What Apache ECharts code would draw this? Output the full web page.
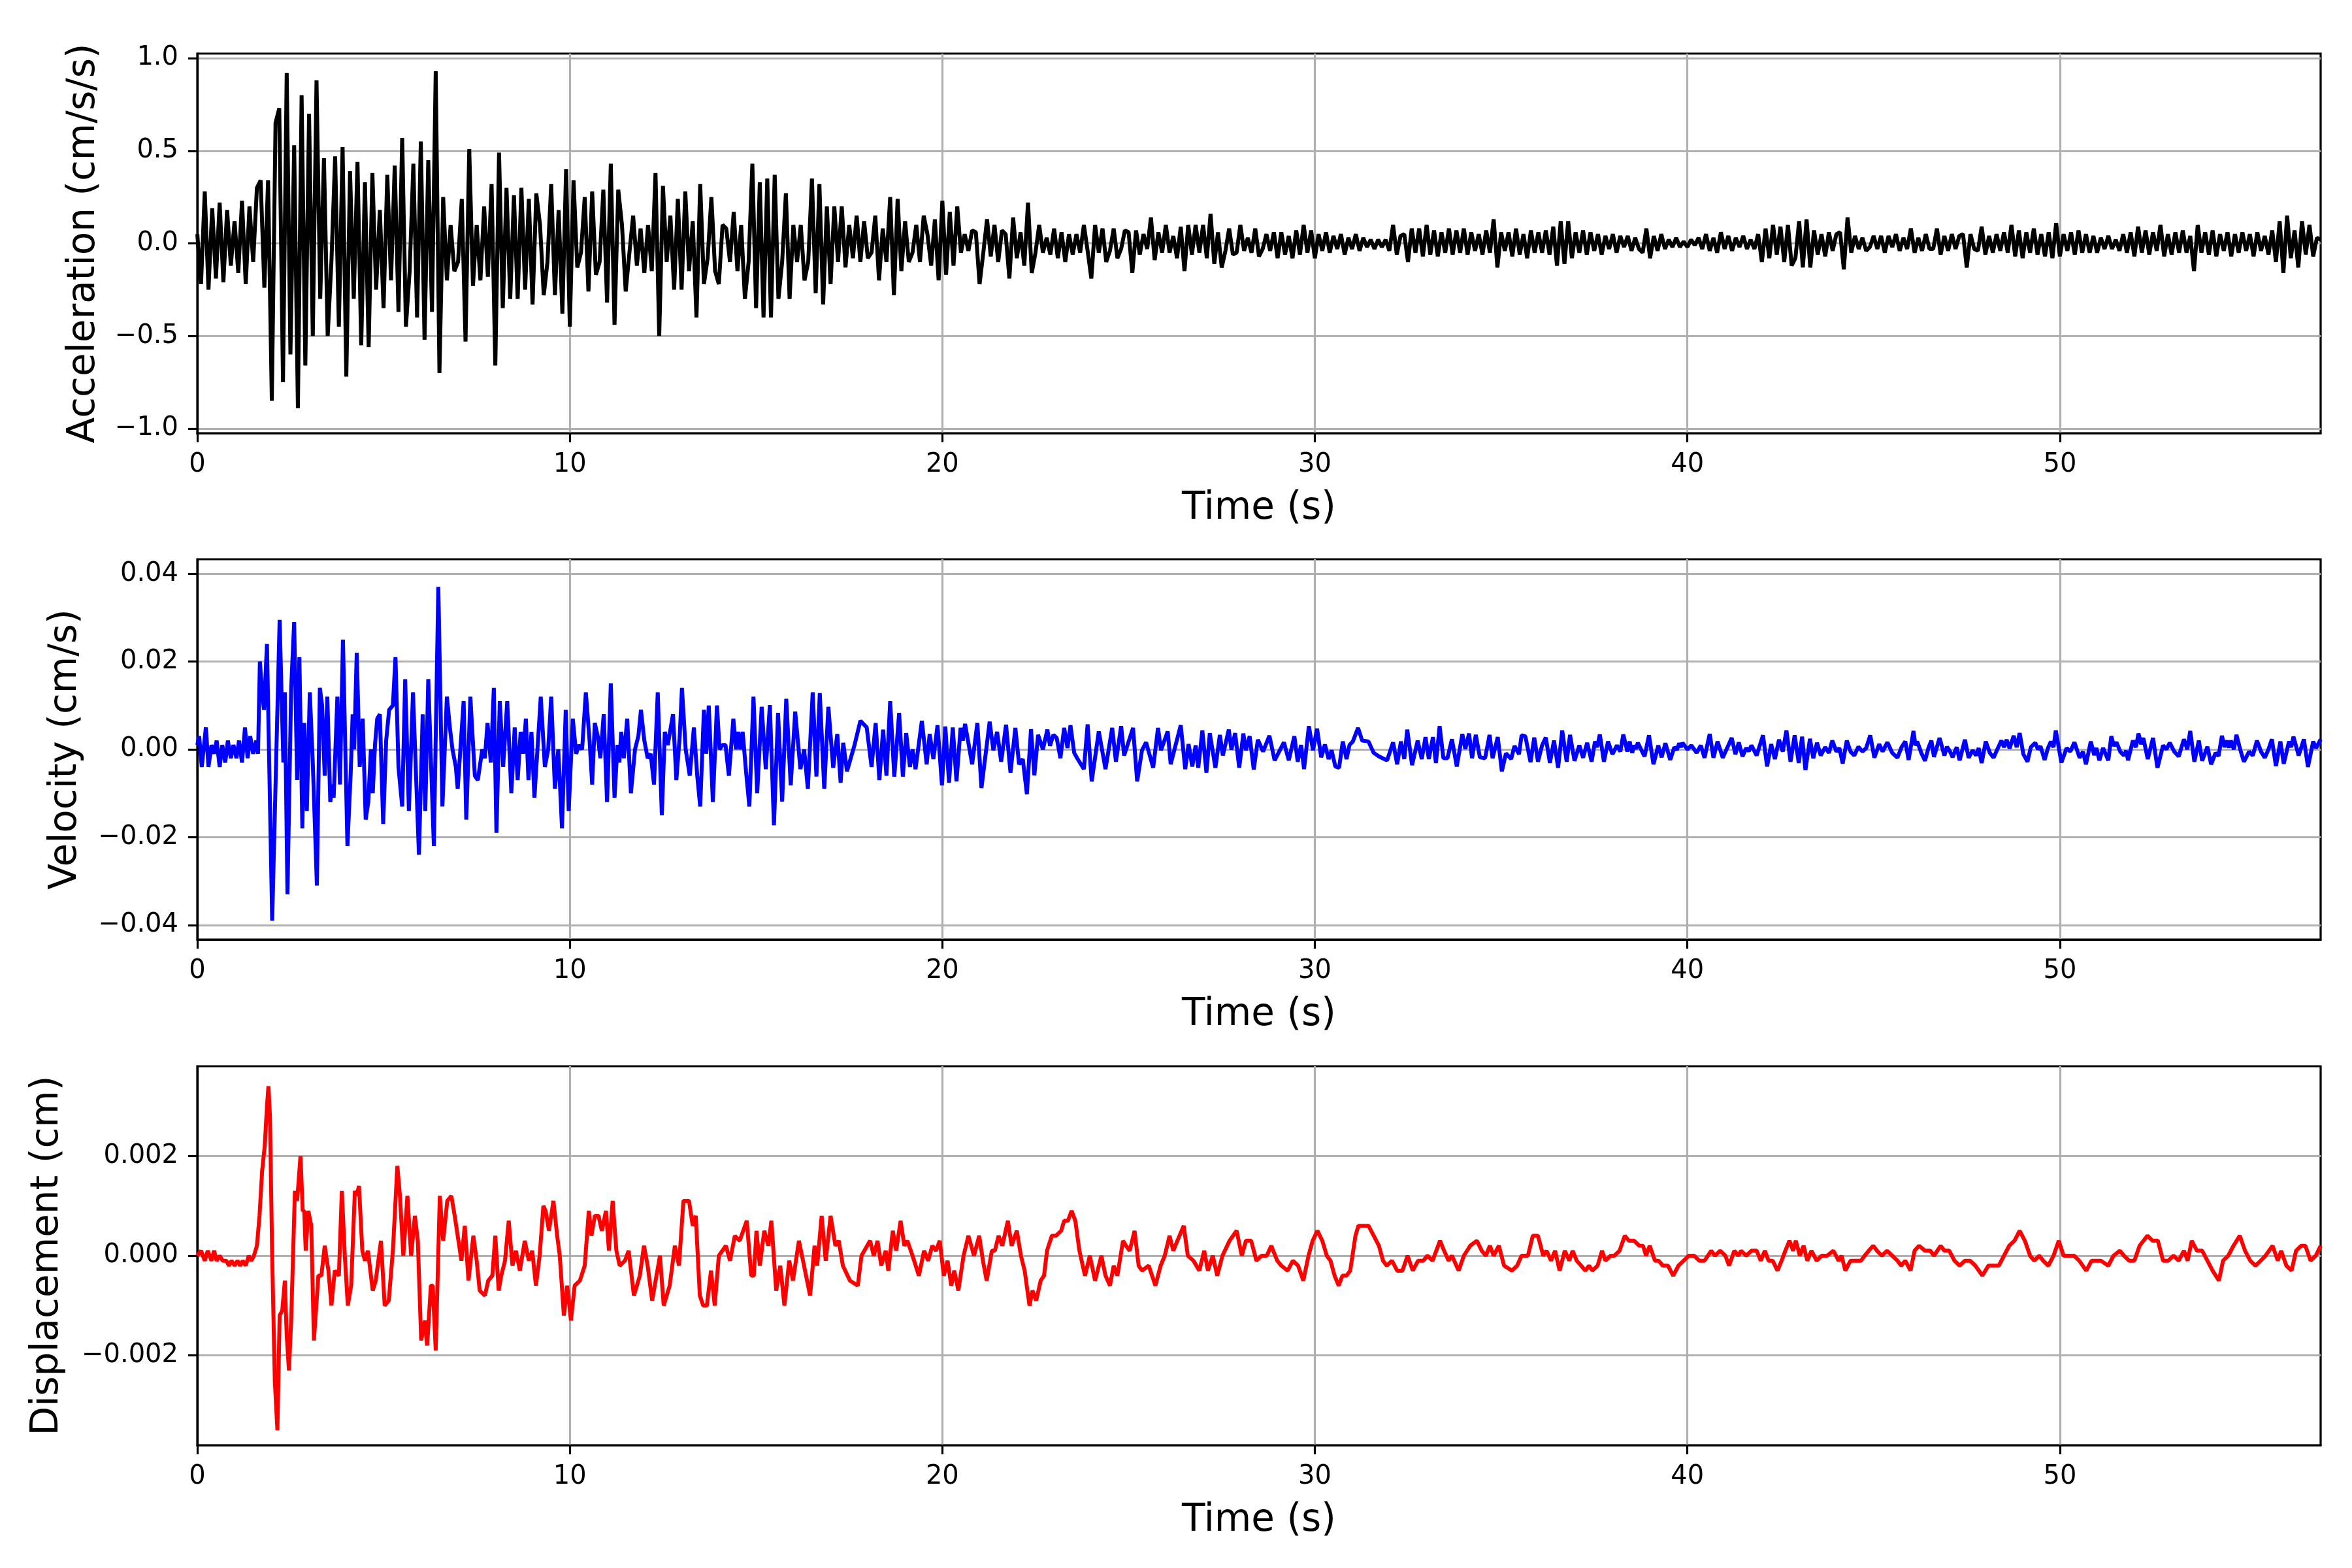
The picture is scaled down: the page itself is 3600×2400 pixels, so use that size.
<!DOCTYPE html>
<html>
<head>
<meta charset="utf-8" />
<title>Acceleration, velocity and displacement records</title>
<script src="https://cdn.jsdelivr.net/npm/echarts@6.0.0/dist/echarts.min.js"></script>
<style>
  html, body { margin: 0; padding: 0; background: #fff; }
  #chart { width: 3600px; height: 2400px; }
</style>
</head>
<body>
<div id="chart"></div>
<script type="text/javascript">
// acceleration record, one value every accStep seconds (cm/s/s)
var accStep = 0.1;
var accValues = [
  0.05,-0.22,0.28,-0.25,0.19,-0.19,0.22,-0.21,0.18,-0.12,
  0.12,-0.16,0.23,-0.22,0.2,-0.1,0.3,0.34,-0.24,0.34,
  -0.85,0.65,0.73,-0.75,0.92,-0.6,0.53,-0.89,0.8,-0.66,
  0.7,-0.5,0.88,-0.3,0.46,-0.5,-0.1,0.47,-0.45,0.52,
  -0.72,0.39,-0.3,0.44,-0.55,0.33,-0.56,0.38,-0.25,0.18,
  -0.35,0.37,-0.2,0.42,-0.37,0.57,-0.45,-0.15,0.43,-0.4,
  0.55,-0.52,0.45,-0.37,0.93,-0.7,0.25,-0.2,0.1,-0.15,
  -0.1,0.24,-0.53,0.51,-0.23,0.1,-0.2,0.2,-0.18,0.32,
  -0.66,0.49,-0.35,0.3,-0.3,0.26,-0.3,0.3,-0.25,0.24,
  -0.33,0.27,0.1,-0.28,-0.1,0.32,-0.28,0.18,-0.38,0.4,
  -0.45,0.34,-0.13,-0.05,0.25,-0.26,0.28,-0.17,-0.1,0.29,
  -0.32,0.43,-0.44,0.29,0.1,-0.26,-0.05,0.15,-0.12,0.08,
  -0.16,0.1,-0.15,0.38,-0.5,0.31,-0.1,0.15,-0.25,0.24,
  -0.25,0.28,-0.15,0.12,-0.4,0.32,-0.22,-0.08,0.25,-0.15,
  -0.22,0.1,0.08,-0.1,0.17,-0.15,0.1,-0.3,-0.1,0.43,
  -0.35,0.33,-0.4,0.35,-0.4,0.37,-0.3,-0.1,0.27,-0.3,
  0.1,-0.1,0.1,-0.2,-0.1,0.35,-0.27,0.32,-0.33,0.2,
  -0.22,0.2,-0.1,0.2,-0.13,0.1,-0.08,0.15,-0.1,0.12,
  -0.08,-0.05,0.15,-0.2,0.08,-0.1,0.25,-0.28,0.24,-0.15,
  0.12,-0.1,-0.05,0.1,-0.1,0.15,0.05,-0.12,0.13,-0.2,
  0.23,-0.17,0.17,-0.12,0.2,-0.05,0.05,-0.04,0.07,0.06,
  -0.22,-0.05,0.13,-0.07,0.1,-0.1,0.07,0.05,-0.19,0.14,
  -0.08,0.06,-0.12,0.22,-0.16,-0.05,0.1,-0.05,0.03,-0.06,
  0.08,-0.08,0.06,-0.1,0.05,-0.06,0.05,-0.05,0.1,-0.04,
  -0.19,0.1,-0.05,0.08,-0.1,-0.04,0.08,-0.08,-0.03,0.07,
  0.06,-0.16,0.07,-0.06,0.05,-0.03,0.14,-0.09,0.06,-0.05,
  0.1,-0.05,0.04,-0.08,0.09,-0.15,0.1,-0.06,0.1,-0.05,
  0.1,-0.08,0.16,-0.11,0.06,-0.13,-0.04,0.08,-0.06,-0.05,
  0.1,-0.04,0.03,-0.05,0.08,-0.07,-0.03,0.05,-0.04,0.06,
  -0.08,0.06,-0.06,0.04,-0.08,0.07,-0.06,0.1,-0.05,0.07,
  -0.08,0.05,-0.04,0.06,-0.05,0.04,-0.03,0.05,-0.06,0.03,
  -0.03,0.05,-0.04,0.03,-0.02,0.02,-0.03,0.02,-0.02,0.02,
  -0.04,0.1,-0.06,0.04,0.05,-0.1,0.08,-0.05,0.08,-0.07,
  0.1,-0.06,0.07,-0.07,0.06,-0.05,0.08,-0.06,0.07,-0.05,
  0.08,-0.06,0.06,-0.04,0.05,-0.06,0.07,-0.05,0.13,-0.13,
  0.06,-0.04,0.06,-0.07,0.08,-0.06,0.05,-0.08,0.07,-0.05,
  0.06,-0.05,0.07,-0.06,0.09,-0.12,0.12,-0.11,0.12,-0.08,
  0.06,-0.05,0.07,-0.06,0.06,-0.04,0.05,-0.06,0.04,-0.03,
  0.05,-0.05,0.04,-0.02,0.04,-0.04,0.03,-0.03,-0.05,0.08,
  -0.08,0.04,-0.04,0.05,-0.03,0.02,-0.02,0.03,-0.02,0.01,
  -0.02,0.02,-0.01,0.03,-0.03,0.05,-0.04,0.03,-0.05,0.06,
  -0.03,0.04,-0.04,0.03,-0.02,0.04,-0.03,0.02,-0.03,0.05,
  -0.1,0.08,-0.08,0.1,-0.06,0.09,-0.1,0.1,-0.12,-0.08,
  0.12,-0.13,0.13,-0.13,0.07,-0.06,0.05,-0.07,0.06,-0.04,
  0.05,0.06,-0.14,0.14,-0.05,0.04,-0.03,0.03,-0.04,-0.02,
  0.04,-0.03,0.04,-0.05,0.04,-0.02,0.05,-0.04,0.03,-0.03,
  0.08,-0.05,0.03,-0.04,0.05,-0.03,-0.03,0.08,-0.06,0.04,
  -0.04,0.05,-0.03,0.04,0.05,-0.13,0.05,-0.03,-0.04,0.09,
  -0.06,0.04,-0.05,0.05,-0.04,0.06,-0.05,0.1,-0.07,0.07,
  -0.08,0.06,-0.05,0.08,-0.06,0.05,-0.07,0.06,-0.08,0.11,
  -0.07,0.05,-0.04,0.06,-0.06,0.07,-0.05,0.05,-0.05,0.04,
  -0.05,0.03,-0.03,0.04,-0.03,0.02,-0.04,0.05,-0.05,0.06,
  -0.07,0.09,-0.05,0.07,-0.06,0.06,-0.04,0.1,-0.07,0.05,
  -0.06,0.06,-0.05,0.07,-0.05,0.04,-0.15,0.1,-0.05,0.06,
  -0.06,0.07,-0.07,0.05,-0.04,0.06,-0.07,0.05,-0.05,0.06,
  -0.04,0.05,-0.07,0.06,-0.04,0.04,-0.06,0.07,-0.1,0.12,
  -0.16,0.15,-0.08,0.07,-0.13,0.12,-0.06,0.1,-0.07,0.03,
  0.02
];

// velocity record, [time (s), cm/s] at its turning points
var velPoints = [
  [0,0.001],[0.05,0.003],[0.12,-0.004],[0.23,0.005],[0.3,-0.004],[0.38,0.001],[0.45,-0.001],[0.52,0.002],
  [0.6,-0.004],[0.67,0.001],[0.75,-0.003],[0.82,0.002],[0.9,-0.002],[0.97,0.001],[1.05,-0.002],[1.12,0.002],
  [1.2,-0.003],[1.28,0.005],[1.35,-0.002],[1.42,0.003],[1.5,-0.001],[1.58,0.002],[1.63,-0.001],
  [1.68,0.02],[1.74,0.013],[1.79,0.009],[1.87,0.024],[2.01,-0.039],[2.04,-0.039],[2.21,0.0295],[2.31,-0.003],
  [2.35,0.013],[2.42,-0.033],[2.52,0.014],[2.6,0.029],[2.68,-0.007],[2.74,0.021],[2.82,-0.018],[2.87,0.006],
  [2.94,-0.014],[3.02,0.013],[3.1,-0.003],[3.21,-0.031],[3.29,0.014],[3.35,0.01],[3.42,-0.006],[3.49,0.012],
  [3.57,-0.012],[3.62,-0.008],[3.66,-0.011],[3.76,0.012],[3.83,-0.008],[3.91,0.025],[4.03,-0.022],[4.12,-0.005],
  [4.17,0.008],[4.21,0.0],[4.28,0.022],[4.36,-0.004],[4.44,0.007],[4.52,-0.016],[4.59,-0.012],[4.66,0.0],
  [4.71,-0.01],[4.77,0.001],[4.83,0.007],[4.9,0.008],[4.99,-0.017],[5.07,0.002],[5.15,0.009],[5.25,0.01],
  [5.32,0.021],[5.4,-0.004],[5.5,-0.013],[5.58,0.016],[5.68,-0.014],[5.79,0.013],[5.95,-0.024],[6.05,0.008],
  [6.12,-0.014],[6.2,0.016],[6.27,-0.002],[6.35,-0.022],[6.47,0.037],[6.58,-0.013],[6.7,0.012],[6.78,0.005],
  [6.85,0.0],[6.94,-0.004],[6.99,-0.009],[7.15,0.011],[7.22,-0.016],[7.33,0.012],[7.45,-0.006],[7.53,-0.007],
  [7.65,0.0],[7.72,-0.002],[7.79,0.006],[7.88,-0.003],[7.96,0.014],[8.03,-0.019],[8.12,0.011],[8.21,-0.004],
  [8.32,0.011],[8.43,-0.01],[8.52,0.005],[8.6,-0.007],[8.68,0.004],[8.75,-0.001],[8.82,0.007],[8.89,-0.007],
  [8.97,0.004],[9.05,-0.011],[9.22,0.012],[9.33,-0.004],[9.42,0.0],[9.5,0.012],[9.6,-0.009],[9.69,0.0],
  [9.79,-0.018],[9.89,0.009],[9.97,-0.014],[10.08,0.007],[10.17,-0.001],[10.25,0.001],[10.33,0.0],[10.43,0.013],
  [10.53,0.002],[10.6,-0.008],[10.67,0.006],[10.75,0.003],[10.82,-0.002],[10.91,0.008],[11.0,-0.012],[11.1,0.015],
  [11.2,-0.011],[11.28,0.001],[11.33,-0.003],[11.38,0.004],[11.45,-0.002],[11.54,0.007],[11.64,-0.01],[11.75,0.0],
  [11.84,0.003],[11.91,0.009],[12.0,0.002],[12.09,-0.002],[12.17,-0.001],[12.26,-0.008],[12.36,0.013],[12.47,-0.015],
  [12.55,0.004],[12.63,0.001],[12.77,0.008],[12.86,-0.007],[12.95,0.003],[13.01,0.014],[13.11,0.0],[13.22,-0.006],
  [13.33,0.005],[13.42,-0.006],[13.5,-0.013],[13.6,0.009],[13.66,-0.001],[13.73,0.01],[13.84,-0.012],[13.95,0.01],
  [14.02,0.0],[14.1,0.001],[14.18,0.001],[14.27,-0.006],[14.39,0.007],[14.46,0.0],[14.52,0.004],[14.58,0.0],
  [14.64,0.004],[14.73,-0.005],[14.82,-0.013],[14.93,0.012],
  [15.03,-0.01],[15.15,0.0097],[15.26,-0.0045],[15.37,0.0101],[15.48,-0.0173],[15.59,0.0083],[15.7,-0.0119],[15.81,0.0115],
  [15.93,-0.0082],[16.05,0.0086],[16.19,-0.0045],[16.29,0.0],[16.39,-0.009],[16.52,0.013],[16.62,-0.0062],[16.71,0.0128],
  [16.83,-0.009],[16.94,0.0097],[17.07,-0.0042],[17.18,0.0035],[17.27,-0.0076],[17.34,0.0015],[17.44,-0.005],[17.64,0.0009],
  [17.8,0.0065],[17.97,0.005],[18.1,-0.004],[18.21,0.006],[18.31,-0.007],[18.41,0.0045],[18.5,-0.006],[18.6,0.011],
  [18.71,-0.0062],[18.84,0.0083],[18.94,-0.0062],[19.03,0.0037],[19.13,-0.004],[19.2,0.0],[19.28,-0.0045],[19.45,0.0065],
  [19.58,-0.0034],[19.66,0.0035],[19.76,-0.0022],[19.87,0.0055],[19.99,-0.0082],[20.08,0.0052],[20.18,-0.0076],[20.28,0.005],
  [20.38,-0.0073],[20.49,0.0049],[20.55,0.002],[20.61,0.0058],[20.8,-0.0034],[20.94,0.006],[21.05,-0.0088],[21.27,0.0063],
  [21.37,-0.0002],[21.47,0.004],[21.58,-0.0028],[21.71,0.0056],[21.83,-0.0053],[21.96,0.0049],[22.06,-0.0034],[22.16,-0.0022],
  [22.27,-0.0102],[22.38,0.0046],[22.47,-0.0059],[22.57,0.0033],[22.7,0.0],[22.82,0.0045],[22.89,0.0008],[22.98,0.0033],
  [23.07,0.0026],[23.17,-0.002],[23.27,0.0049],[23.36,0.0003],[23.44,0.0055],[23.54,-0.0008],[23.62,-0.002],[23.8,-0.0045],
  [23.9,0.0057],[24.01,-0.0073],[24.2,0.0041],[24.38,-0.0045],[24.56,0.0049],[24.66,-0.0028],[24.8,0.0053],[24.88,-0.0014],
  [25.12,0.0049],[25.23,-0.0073],[25.36,-0.0002],[25.47,0.0016],[25.66,-0.0042],[25.79,0.0049],[25.87,-0.0002],[26.05,0.0041],
  [26.13,-0.0034],[26.4,0.0055],[26.52,-0.0045],[26.61,0.0012],[26.71,-0.0039],[26.8,0.0009],[26.87,-0.0042],[26.98,0.0043],
  [27.09,-0.0053],[27.18,0.0037],[27.33,-0.0042],[27.45,0.0033],[27.53,-0.0014],[27.69,0.0045],[27.76,-0.0001],[27.86,0.0037],
  [27.97,-0.0042],[28.08,0.0036],[28.15,-0.0002],[28.25,0.003],[28.36,-0.0046],[28.47,0.0022],[28.61,-0.0005],[28.78,0.0031],
  [28.92,-0.0025],[29.17,0.0016],[29.3,-0.0025],[29.45,0.003],[29.54,-0.0028],[29.63,0.001],[29.71,-0.0045],[29.84,0.0053],
  [29.95,-0.0002],[30.06,0.0047],[30.17,-0.0018],[30.27,0.0011],[30.37,-0.0022],[30.45,-0.0002],[30.55,-0.0039],[30.65,-0.0042],
  [30.75,0.0018],[30.85,-0.0022],[30.93,0.001],[31.02,0.0018],[31.16,0.0049],[31.27,0.002],[31.44,0.0018],[31.58,-0.0008],
  [31.72,-0.0016],[31.86,-0.0022],[31.94,-0.0025],[32.1,0.0016],[32.21,-0.0034],[32.31,0.0018],[32.4,-0.0022],[32.48,0.0045],
  [32.61,-0.0036],[32.76,0.002],[32.87,-0.0022],[32.97,0.0028],[33.06,-0.0022],[33.17,0.0028],[33.25,-0.0031],[33.35,0.0053],
  [33.45,-0.002],[33.56,-0.002],[33.68,0.0023],[33.81,-0.0039],[33.96,0.0035],[34.04,0.0001],[34.14,0.0036],[34.22,-0.002],
  [34.32,0.0033],[34.43,-0.0018],[34.57,-0.002],[34.69,0.0033],[34.77,-0.002],[34.91,0.0028],[35.02,-0.005],[35.13,-0.0009],
  [35.27,-0.0022],[35.36,0.0008],[35.48,-0.0011],[35.55,0.0032],[35.65,0.003],[35.79,-0.0029],[35.89,0.0027],
  [35.99,-0.0028],[36.1,0.0009],[36.2,0.0027],[36.31,-0.0031],[36.42,0.002],[36.53,-0.0042],[36.64,0.0043],[36.76,-0.0028],
  [36.85,0.0033],[36.97,-0.0026],[37.1,0.0009],[37.2,-0.0019],[37.31,0.0015],[37.43,-0.0028],[37.52,0.0018],[37.58,0.0005],
  [37.65,0.0034],[37.76,-0.0028],[37.87,0.0018],[37.99,-0.0011],[38.11,0.0009],[38.2,-0.0005],[38.28,0.0034],[38.39,-0.0005],
  [38.45,0.0018],[38.52,-0.0008],[38.57,0.0009],[38.62,0.0001],[38.67,0.0015],[38.85,-0.0016],[38.97,0.0032],[39.09,-0.0034],
  [39.22,0.0009],[39.31,-0.0018],[39.41,0.0014],[39.54,-0.0024],[39.65,0.0005],[39.72,-0.0001],[39.78,0.0014],[39.83,0.0005],
  [39.87,0.0015],[40.0,0.0],[40.11,0.0009],[40.25,-0.0008],[40.36,0.0009],[40.46,-0.0019],[40.6,0.0035],[40.7,-0.0019],
  [40.81,0.0018],[40.95,-0.0019],[41.19,0.0026],[41.29,-0.0011],[41.38,0.0016],[41.48,-0.0016],[41.58,0.0003],[41.65,-0.0004],
  [41.72,0.0009],[41.86,-0.0014],[42.03,0.0032],[42.14,-0.0039],[42.25,0.0012],[42.35,-0.0022],[42.46,0.0022],[42.56,-0.0005],
  [42.66,0.0043],[42.77,-0.0028],[42.88,0.0032],[42.99,-0.0031],[43.08,0.0029],[43.17,-0.0047],[43.29,0.0024],[43.38,-0.002],
  [43.48,0.0015],[43.58,-0.0014],[43.7,0.0005],[43.8,-0.0008],[43.89,0.002],[44.0,-0.0005],[44.08,0.0003],[44.17,-0.0032],
  [44.28,0.002],[44.38,-0.0005],[44.48,-0.0014],[44.59,0.0006],[44.7,-0.0005],[44.8,0.0003],[44.91,0.0032],[45.02,-0.0019],
  [45.15,0.0012],[45.24,-0.0005],[45.37,0.0016],[45.5,-0.0008],[45.64,-0.0019],[45.75,0.0005],[45.85,0.0018],[45.94,-0.0024],
  [46.07,0.0042],[46.12,0.0009],[46.17,0.0018],[46.28,-0.0008],[46.38,-0.0026],[46.47,0.0003],[46.55,0.002],[46.62,-0.0017],
  [46.77,0.0026],[46.9,-0.0014],[46.97,0.0006],[47.05,-0.0005],[47.12,-0.0018],[47.23,0.0005],[47.31,-0.0025],[47.45,0.0022],
  [47.55,-0.0019],[47.66,-0.0002],[47.75,-0.0014],[47.82,0.0003],[47.9,-0.0031],[48.01,0.0018],[48.12,-0.0008],[48.22,-0.0019],
  [48.32,0.0],[48.43,0.002],[48.5,0.0005],[48.57,0.0022],[48.65,0.0002],[48.76,0.0031],[48.84,0.0005],[48.92,0.0037],
  [49.02,-0.0011],[49.13,-0.0028],[49.22,0.0005],[49.34,0.0015],[49.41,0.0],[49.48,0.0007],[49.59,-0.0024],[49.68,0.0003],
  [49.76,0.0018],[49.83,0.0005],[49.89,0.0043],[50.04,-0.003],[50.18,0.0003],[50.28,-0.0005],[50.39,0.0016],[50.53,-0.0019],
  [50.62,-0.0005],[50.7,-0.0034],[50.83,0.0018],[50.92,-0.0013],[50.98,0.0003],[51.06,-0.0025],[51.16,0.0003],[51.3,-0.0025],
  [51.38,0.003],[51.45,0.0008],[51.52,0.0016],[51.62,-0.0005],[51.72,-0.0014],[51.78,-0.0003],[51.83,-0.0025],[51.96,0.002],
  [52.04,0.0005],[52.11,0.0036],[52.18,0.0012],[52.24,0.0026],[52.36,-0.0022],[52.5,0.0026],[52.62,-0.0042],[52.77,0.0009],
  [52.86,0.0],[52.95,0.0015],[53.07,-0.0005],[53.19,-0.0016],[53.33,0.0023],[53.42,0.0],[53.5,0.0042],[53.61,-0.0028],
  [53.73,0.002],[53.82,-0.0026],[53.96,0.0006],[54.06,-0.0034],[54.18,-0.0008],[54.26,-0.0015],[54.35,0.0031],[54.42,0.0005],
  [54.48,0.002],[54.54,0.0004],[54.59,0.002],[54.67,0.0],[54.74,0.0033],[54.84,0.0],[54.94,-0.0028],[55.08,-0.0005],
  [55.18,-0.0014],[55.29,0.002],[55.4,-0.0005],[55.5,-0.0019],[55.6,0.0],[55.69,0.0023],[55.8,-0.0038],[55.92,0.0018],
  [56.01,-0.0033],[56.15,0.0018],[56.21,0.0005],[56.27,0.0029],[56.41,-0.0014],[56.55,0.0023],[56.66,-0.004],[56.8,0.0018],
  [56.88,0.0003],[57.0,0.0023]
];

// displacement record, [time (s), cm] at its turning points
var dispPoints = [
  [0,0.0],[0.1,0.0001],[0.2,-0.0001],[0.28,0.0001],[0.38,-0.0001],[0.45,0.0001],[0.52,-0.0001],[0.6,0.0],
  [0.68,-0.0001],[0.78,-0.0001],[0.85,-0.0002],[0.92,-0.0001],[1.0,-0.0002],[1.08,-0.0001],[1.15,-0.0002],[1.22,-0.0001],
  [1.3,-0.0002],[1.38,0.0],[1.45,-0.0001],[1.52,0.0],[1.6,0.0002],[1.67,0.0008],[1.74,0.0017],[1.81,0.0022],
  [1.87,0.003],[1.91,0.0034],[1.95,0.0028],[2.01,0.0],[2.08,-0.0025],[2.15,-0.0035],[2.21,-0.0012],[2.28,-0.0011],
  [2.35,-0.0005],[2.4,-0.0016],[2.46,-0.0023],[2.52,-0.0013],[2.62,0.0013],[2.68,0.0011],[2.77,0.002],[2.83,0.0009],
  [2.87,0.0009],[2.91,0.0001],[2.98,0.0009],[3.06,0.0006],[3.13,-0.0017],[3.25,-0.0004],[3.33,-0.0004],[3.42,0.0002],
  [3.52,-0.0003],[3.6,-0.001],[3.69,-0.0003],[3.8,-0.0004],[3.88,0.0013],[3.96,0.0],[4.04,-0.001],[4.13,-0.0006],
  [4.23,0.0013],[4.28,0.0012],[4.34,0.0014],[4.43,0.0001],[4.5,-0.0001],[4.58,0.0001],[4.71,-0.0007],[4.79,-0.0005],
  [4.93,0.0003],[5.03,-0.001],[5.14,-0.0009],[5.25,0.0001],[5.37,0.0018],[5.44,0.0012],[5.53,0.0],[5.64,0.0012],
  [5.74,0.0],[5.84,0.0008],[5.92,0.0003],[6.01,-0.0017],[6.11,-0.0013],[6.17,-0.0018],[6.27,-0.0006],[6.32,-0.0006],
  [6.4,-0.0019],[6.51,0.0012],[6.6,0.0003],[6.71,0.0011],[6.82,0.0012],[6.91,0.0008],[7.01,0.0003],[7.09,-0.0001],
  [7.18,0.0006],[7.28,-0.0005],[7.41,0.0004],[7.5,-0.0001],[7.58,-0.0007],[7.72,-0.0008],[7.81,-0.0005],[7.92,-0.0004],
  [8.0,0.0004],[8.09,-0.0007],[8.16,-0.0004],[8.26,-0.0001],[8.36,0.0007],[8.46,-0.0002],[8.55,0.0001],[8.66,-0.0003],
  [8.79,0.0003],[8.9,-0.0001],[8.99,0.0001],[9.09,-0.0006],[9.19,0.0],[9.29,0.001],[9.35,0.0009],[9.44,0.0005],
  [9.56,0.0011],[9.66,0.0004],[9.73,0.0],[9.84,-0.0012],[9.93,-0.0006],[10.03,-0.0013],[10.13,-0.0006],[10.27,-0.0005],
  [10.4,-0.0002],[10.51,0.0009],[10.58,0.0004],[10.67,0.0008],[10.77,0.0008],[10.86,0.0005],[10.97,0.0009],[11.05,0.0001],
  [11.15,0.0011],[11.25,0.0001],[11.34,-0.0002],[11.48,-0.0001],[11.58,0.0001],[11.72,-0.0008],[11.88,-0.0004],[11.99,0.0002],
  [12.09,-0.0002],[12.21,-0.0009],[12.42,0.0],[12.52,-0.001],[12.68,-0.0006],[12.82,0.0002],[12.93,-0.0002],[13.05,0.0011],
  [13.2,0.0011],[13.3,0.0006],[13.38,0.0008],[13.49,-0.0008],[13.58,-0.001],[13.68,-0.001],[13.79,-0.0003],[13.89,-0.001],
  [14.0,0.0],[14.19,0.0002],[14.3,-0.0001],[14.43,0.0004],[14.56,0.0003],[14.75,0.0007],[14.87,-0.0004],[14.94,-0.0004],
  [15.01,0.0005],[15.1,-0.0002],[15.22,0.0005],[15.33,0.0002],[15.41,0.0007],[15.54,-0.0007],[15.65,-0.0002],[15.76,-0.001],
  [15.89,-0.0001],[15.99,-0.0005],[16.15,0.0003],[16.26,-0.0001],[16.45,-0.0008],[16.57,0.0002],[16.64,-0.0002],[16.76,0.0008],
  [16.87,-0.0001],[17.0,0.0008],[17.13,0.0002],[17.22,0.0003],[17.33,-0.0002],[17.52,-0.0005],[17.73,-0.0006],[17.83,0.0],
  [18.06,0.0003],[18.16,0.0],[18.26,0.0003],[18.36,-0.0002],[18.48,0.0001],[18.55,-0.0003],[18.67,0.0005],[18.76,0.0001],
  [18.88,0.0007],[18.98,0.0002],[19.06,0.0003],[19.2,0.0],[19.37,-0.0004],[19.51,0.0001],[19.62,-0.0001],[19.73,0.0002],
  [19.83,0.0001],[19.93,0.0003],[20.04,-0.0004],[20.14,-0.0001],[20.24,-0.0006],[20.32,-0.0003],[20.43,-0.0007],[20.57,0.0],
  [20.7,0.0004],[20.85,0.0],[20.99,0.0004],[21.09,-0.0001],[21.19,-0.0005],[21.33,0.0001],[21.41,0.0001],[21.51,0.0004],
  [21.61,0.0002],[21.76,0.0007],[21.86,0.0002],[22.0,0.0005],[22.11,0.0],[22.21,-0.0003],[22.34,-0.001],[22.42,-0.0007],
  [22.52,-0.0009],[22.64,-0.0005],[22.73,-0.0004],[22.81,0.0001],[22.94,0.0004],[23.05,0.0004],[23.19,0.0005],[23.27,0.0007],
  [23.37,0.0007],[23.47,0.0009],[23.57,0.0007],[23.68,0.0001],[23.83,-0.0004],[23.96,0.0],[24.1,-0.0005],[24.27,0.0],
  [24.38,-0.0004],[24.5,-0.0006],[24.6,-0.0002],[24.7,-0.0004],[24.85,0.0003],[24.93,0.0002],[25.03,0.0001],[25.16,0.0005],
  [25.27,-0.0002],[25.36,-0.0003],[25.54,-0.0002],[25.72,-0.0006],[25.86,-0.0002],[25.97,0.0],[26.1,0.0004],[26.2,0.0001],
  [26.31,0.0003],[26.48,0.0006],[26.59,0.0],[26.74,-0.0001],[26.9,-0.0003],[27.03,0.0001],[27.13,-0.0003],[27.26,0.0],
  [27.38,-0.0004],[27.52,0.0],[27.71,0.0003],[27.9,0.0005],[28.04,0.0],[28.15,0.0003],[28.29,0.0003],[28.43,-0.0001],
  [28.57,0.0],[28.71,0.0],[28.83,0.0002],[28.99,-0.0001],[29.1,-0.0002],[29.27,-0.0003],[29.41,-0.0001],[29.55,-0.0002],
  [29.69,-0.0005],[29.83,0.0],[29.94,0.0003],[30.07,0.0005],[30.2,0.0003],[30.32,0.0],[30.42,-0.0001],[30.53,-0.0004],
  [30.64,-0.0006],[30.74,-0.0004],[30.85,-0.0004],[30.95,-0.0003],[31.09,0.0004],[31.17,0.0006],[31.3,0.0006],[31.44,0.0006],
  [31.58,0.0004],[31.72,0.0002],[31.83,-0.0001],[31.93,-0.0002],[32.07,-0.0001],[32.21,-0.0003],[32.35,-0.0003],[32.49,0.0],
  [32.63,-0.0003],[32.77,-0.0001],[32.91,-0.0001],[33.02,0.0],[33.16,-0.0001],[33.36,0.0003],[33.47,0.0001],[33.59,-0.0001],
  [33.68,0.0],[33.86,-0.0003],[34.0,0.0],[34.17,0.0002],[34.35,0.0003],[34.48,0.0001],[34.59,0.0],[34.7,0.0002],
  [34.8,0.0],[34.94,0.0002],[35.08,-0.0002],[35.29,-0.0003],[35.43,-0.0002],[35.55,0.0],[35.72,0.0],[35.85,0.0004],
  [35.99,0.0004],[36.13,0.0],[36.22,0.0001],[36.34,-0.0001],[36.45,0.0001],[36.57,-0.0003],[36.71,0.0001],[36.83,-0.0001],
  [36.92,0.0001],[37.03,-0.0001],[37.15,-0.0002],[37.26,-0.0003],[37.36,-0.0002],[37.45,-0.0003],[37.59,-0.0002],[37.71,0.0001],
  [37.8,-0.0001],[37.94,0.0],[38.04,0.0],[38.18,0.0001],[38.32,0.0004],[38.43,0.0003],[38.57,0.0003],[38.71,0.0002],
  [38.81,0.0002],[38.89,0.0],[38.99,0.0002],[39.13,-0.0001],[39.23,-0.0001],[39.34,-0.0002],[39.48,-0.0002],[39.62,-0.0004],
  [39.76,-0.0002],[39.9,-0.0001],[40.04,0.0],[40.18,0.0],[40.32,-0.0001],[40.46,-0.0001],[40.64,0.0001],[40.74,0.0],
  [40.88,0.0001],[41.02,0.0],[41.12,-0.0002],[41.26,0.0001],[41.37,0.0],[41.44,0.0001],[41.58,0.0],[41.72,0.0001],
  [41.86,0.0001],[41.97,-0.0001],[42.08,0.0001],[42.18,-0.0001],[42.29,-0.0001],[42.42,-0.0003],[42.53,-0.0001],[42.63,0.0001],
  [42.74,0.0003],[42.84,0.0001],[42.91,0.0003],[43.02,0.0],[43.12,0.0002],[43.22,-0.0001],[43.33,0.0001],[43.47,-0.0001],
  [43.61,0.0],[43.75,0.0],[43.92,0.0001],[44.06,-0.0001],[44.14,0.0],[44.24,-0.0003],[44.38,-0.0001],[44.52,-0.0001],
  [44.66,-0.0001],[44.76,0.0],[44.87,0.0001],[44.99,0.0002],[45.09,0.0001],[45.22,0.0],[45.36,0.0001],[45.5,0.0],
  [45.64,-0.0001],[45.74,-0.0002],[45.85,-0.0001],[45.99,-0.0003],[46.1,0.0001],[46.22,0.0002],[46.38,0.0001],[46.52,0.0001],
  [46.62,0.0],[46.8,0.0002],[46.9,0.0001],[47.03,0.0001],[47.17,-0.0001],[47.31,-0.0002],[47.45,-0.0001],[47.59,-0.0001],
  [47.73,-0.0002],[47.92,-0.0004],[48.08,-0.0002],[48.25,-0.0002],[48.36,-0.0002],[48.5,0.0],[48.64,0.0002],[48.78,0.0003],
  [48.92,0.0005],[49.06,0.0003],[49.2,0.0],[49.31,-0.0001],[49.45,0.0],[49.55,-0.0001],[49.69,-0.0002],[49.83,0.0],
  [49.97,0.0003],[50.1,0.0],[50.24,0.0],[50.38,0.0],[50.52,-0.0001],[50.71,-0.0003],[50.85,-0.0001],[50.99,-0.0001],
  [51.1,-0.0001],[51.3,-0.0002],[51.44,0.0],[51.61,0.0001],[51.72,0.0],[51.86,-0.0001],[52.0,-0.0001],[52.14,0.0002],
  [52.35,0.0004],[52.49,0.0003],[52.63,0.0003],[52.77,-0.0001],[52.91,-0.0001],[53.05,0.0],[53.19,-0.0001],[53.33,0.0001],
  [53.43,-0.0001],[53.54,0.0003],[53.68,0.0001],[53.82,0.0001],[53.96,-0.0001],[54.1,-0.0003],[54.27,-0.0005],[54.38,-0.0001],
  [54.52,0.0],[54.66,0.0002],[54.83,0.0004],[54.97,0.0001],[55.11,-0.0001],[55.25,-0.0002],[55.39,-0.0001],[55.52,0.0],
  [55.71,0.0002],[55.85,-0.0001],[55.94,0.0001],[56.08,-0.0002],[56.22,-0.0003],[56.34,0.0001],[56.48,0.0002],[56.59,0.0002],
  [56.73,-0.0001],[56.87,0.0],[57.0,0.0002]
];

var timeTicks = [0, 10, 20, 30, 40, 50];
var accTicks = [-1, -0.5, 0, 0.5, 1];
var velTicks = [-0.04, -0.02, 0, 0.02, 0.04];
var dispTicks = [-0.002, 0, 0.002];

var accPoints = accValues.map(function (v, i) {
    return [Math.round(i * accStep * 100) / 100, v];
});

var font = 'DejaVu Sans';
var gridColor = '#b0b0b0';

function tickText(digits) {
    return function (v) {
        return v.toFixed(digits).replace('-', '\u2212');
    };
}

function xAxisFor(index) {
    return {
        type: 'value',
        gridIndex: index,
        min: 0,
        max: 57,
        name: 'Time (s)',
        nameLocation: 'middle',
        nameGap: 87,
        nameTextStyle: { fontFamily: font, fontSize: 58, color: '#000' },
        axisLine: { show: true, onZero: false, lineStyle: { color: '#000', width: 3.2 } },
        axisTick: { show: true, length: 14, customValues: timeTicks, lineStyle: { color: '#000', width: 3.2 } },
        axisLabel: { customValues: timeTicks, margin: 29, fontFamily: font, fontSize: 40, color: '#000', formatter: tickText(0) },
        splitLine: { show: true, lineStyle: { color: gridColor, width: 3.2 } }
    };
}

function yAxisFor(index, name, lim, ticks, digits, gap) {
    return {
        type: 'value',
        gridIndex: index,
        min: -lim,
        max: lim,
        name: name,
        nameLocation: 'middle',
        nameGap: gap,
        nameTextStyle: { fontFamily: font, fontSize: 58, color: '#000' },
        axisLine: { show: true, onZero: false, lineStyle: { color: '#000', width: 3.2 } },
        axisTick: { show: true, length: 14, customValues: ticks, lineStyle: { color: '#000', width: 3.2 } },
        axisLabel: { customValues: ticks, margin: 29, fontFamily: font, fontSize: 40, color: '#000', formatter: tickText(digits) },
        splitLine: { show: true, lineStyle: { color: gridColor, width: 3.2 } }
    };
}

function lineFor(index, data, color) {
    return {
        type: 'line',
        xAxisIndex: index,
        yAxisIndex: index,
        data: data,
        showSymbol: false,
        symbol: 'none',
        clip: true,
        lineStyle: { color: color, width: 6 },
        z: 3
    };
}

var chart = echarts.init(document.getElementById('chart'), null, { renderer: 'canvas' });
chart.setOption({
    animation: false,
    backgroundColor: '#fff',
    grid: [
        { left: 302, top: 82, width: 3250, height: 581, show: true, borderColor: '#000', borderWidth: 3.2 },
        { left: 302, top: 856, width: 3250, height: 582, show: true, borderColor: '#000', borderWidth: 3.2 },
        { left: 302, top: 1632, width: 3250, height: 580, show: true, borderColor: '#000', borderWidth: 3.2 }
    ],
    xAxis: [xAxisFor(0), xAxisFor(1), xAxisFor(2)],
    yAxis: [
        yAxisFor(0, 'Acceleration (cm/s/s)', 1.025, accTicks, 1, 144),
        yAxisFor(1, 'Velocity (cm/s)', 0.0433, velTicks, 2, 172),
        yAxisFor(2, 'Displacement (cm)', 0.0038, dispTicks, 3, 200)
    ],
    series: [
        lineFor(0, accPoints, '#000000'),
        lineFor(1, velPoints, '#0000ff'),
        lineFor(2, dispPoints, '#ff0000')
    ]
});
</script>
</body>
</html>
